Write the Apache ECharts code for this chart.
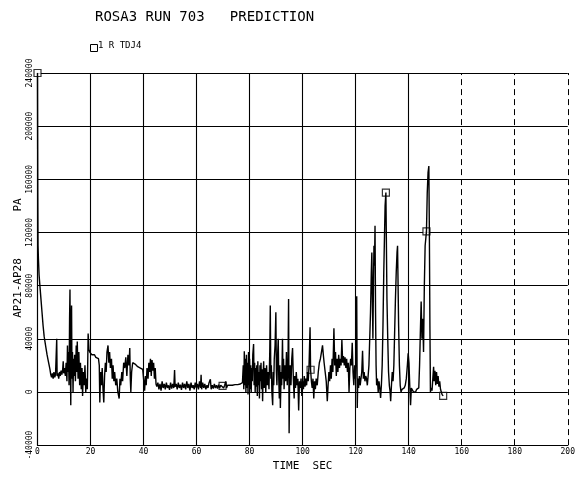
<!DOCTYPE html>
<html><head><meta charset="utf-8">
<script src="https://cdn.jsdelivr.net/npm/echarts@6/dist/echarts.min.js"></script>
<style>html,body{margin:0;padding:0;background:#fff}#c{width:578px;height:477px}</style>
</head><body><div id="c"></div>
<script>
const titleText = 'ROSA3 RUN 703   PREDICTION';
const legendText = '1 R TDJ4';
const xName = 'TIME  SEC';
const yNameTop = 'PA';
const yNameBottom = 'AP21-AP28';
const xTicks = [0,20,40,60,80,100,120,140,160,180,200];
const yTicks = [-40000,0,40000,80000,120000,160000,200000,240000];

const timeSec = [
0,0.1,0.2,0.35,0.6,0.9,1.3,1.7,2.1,2.5,2.8,3.2,3.6,4.0,4.4,4.7,5.0,5.3,
5.6,5.9,6.2,6.5,6.8,7.1,7.25,7.4,7.7,8.0,8.3,8.6,8.9,9.2,9.5,9.7,9.9,10.2,10.5,10.8,11.1,11.3,11.5,11.7,11.9,12.1,12.25,12.4,12.55,12.7,12.85,13.0,13.2,13.4,13.6,13.8,14.0,14.3,14.6,14.8,15.0,15.3,15.6,15.9,16.2,16.5,16.8,17.0,17.3,17.6,17.9,18.2,18.5,18.8,19.1,19.4,19.7,20.1,20.5,21,21.5,22,22.5,23,23.3,23.5,23.8,24.1,24.4,24.7,25.0,25.3,25.6,25.9,26.2,26.6,26.9,27.2,27.5,27.9,28.2,28.5,28.8,29.1,29.5,29.9,30.3,30.8,31.1,31.4,31.8,32.1,32.5,32.9,33.3,33.7,34.1,34.5,34.8,35.0,35.2,35.5,35.9,36.8,37.8,38.8,39.7,40.0,40.4,40.7,41.0,41.3,41.7,42.0,42.3,42.6,42.9,43.2,43.5,43.8,44.1,44.4,44.7,45.0,
45.4,45.8,46.2,46.6,47.0,47.4,47.8,48.2,48.6,49.0,49.4,49.8,50.2,50.6,51.0,51.4,51.7,51.9,52.3,52.7,53.1,53.5,53.9,54.3,54.7,55.1,55.5,55.9,56.3,56.7,57.1,57.5,57.9,58.3,58.7,59.1,59.5,59.9,60.3,60.7,61.1,61.5,61.7,61.9,62.3,62.7,63.1,63.5,63.9,64.3,64.7,65.2,65.5,65.9,66.3,66.7,67.1,67.5,67.9,68.3,68.7,69.1,69.5,69.8,70.2,70.6,71.0,71.3,71.7,72.1,72.5,73,73.5,74,74.5,75,75.5,76,76.5,77,77.3,
77.6,77.8,78.0,78.2,78.4,78.6,78.8,79.0,79.2,79.4,79.6,79.8,80.0,80.2,80.4,80.6,80.8,81.0,81.2,81.5,81.7,81.9,82.1,82.3,82.5,82.7,82.9,83.1,83.3,83.5,83.7,83.9,84.1,84.3,84.5,84.7,84.9,85.1,85.3,85.5,85.8,86.1,86.4,86.7,87.0,87.3,87.6,87.8,88.0,88.2,88.4,88.7,88.9,89.1,89.3,89.6,89.9,90.1,90.3,90.5,90.8,91.0,91.2,91.4,91.6,91.9,92.1,92.4,92.6,92.8,93.0,93.3,93.6,93.9,94.2,94.5,94.7,94.9,95.1,95.3,95.6,95.9,96.2,96.5,96.8,97.0,97.3,97.6,97.9,98.2,98.5,98.8,99.1,99.4,99.7,100.0,100.3,100.6,100.9,101.2,101.5,101.8,102.1,102.4,102.8,103.0,103.3,103.6,103.9,104.2,104.5,104.8,105.1,105.5,105.9,106.3,106.7,107.1,107.5,107.8,108.1,108.5,108.9,109.3,109.6,109.9,110.2,110.5,110.8,111.1,111.4,111.8,112.1,112.4,112.7,113.0,113.3,113.6,113.9,114.2,114.5,114.8,115.1,115.4,115.7,116.0,116.3,116.6,116.9,117.2,117.5,117.8,118.1,118.4,118.7,119.0,119.3,119.6,119.9,120.2,120.4,120.6,120.8,121.1,121.4,121.7,122.0,122.3,122.6,122.9,123.2,123.5,123.8,124.1,124.4,124.7,125.0,125.3,125.6,125.9,126.1,126.3,126.5,126.7,126.9,127.1,127.3,127.5,127.7,127.9,128.2,128.5,128.8,129.1,129.4,129.7,130.0,130.3,130.6,130.9,131.1,131.4,131.6,131.8,132.1,132.4,132.7,133.0,133.2,133.5,133.8,134.1,134.4,134.7,135.0,135.3,135.6,135.8,136.0,136.2,136.5,136.8,137.1,137.5,137.9,138.3,138.7,139.1,139.5,139.8,140.1,140.4,140.7,141.0,141.4,141.8,142.2,142.6,143.0,143.4,143.8,144.1,144.4,144.7,145.0,145.3,145.6,145.9,146.2,146.7,147.0,147.3,147.6,147.8,148.0,148.2,148.5,148.8,149.1,149.4,149.6,149.9,150.2,150.5,150.8,151.1,151.4,151.7,152.0,152.3,152.6,153.0
];
const pressurePa = [
240000,150000,110000,100000,88000,80000,70000,60000,50000,42000,38000,33000,28000,24000,20000,17000,13000,11000,
14000,10000,15000,11000,13000,12000,40000,12000,14000,10000,15000,12000,16000,13000,17000,23000,14000,18000,12000,22000,8000,35000,15000,30000,5000,55000,77000,20000,-10000,45000,65000,10000,30000,0,25000,12000,28000,8000,35000,15000,38000,10000,30000,5000,22000,2000,18000,-3000,15000,5000,20000,0,10000,2000,44000,32000,30000,29000,28000,27000,28000,26000,26000,25000,20000,-8000,15000,5000,18000,2000,-8000,12000,22000,15000,30000,35000,22000,30000,18000,25000,10000,20000,8000,15000,5000,10000,0,-5000,10000,5000,15000,8000,22000,18000,26000,12000,28000,20000,33000,10000,0,15000,22000,21000,19000,18000,17000,10000,1000,12000,5000,18000,10000,22000,15000,25000,12000,24000,16000,22000,10000,18000,6000,4000,
7000,2000,6000,1000,8000,3000,6000,2000,7000,3000,5000,1500,7000,2500,6000,3000,16500,4000,6000,2000,7000,3000,5500,1500,7000,3000,6000,2000,8000,3000,6000,1000,7000,3000,5000,2000,7000,3000,6000,2000,8000,3000,13000,2000,7000,3000,6000,2000,5000,3000,7000,9500,2000,5000,2500,6000,3000,5000,2500,5500,3000,5000,3500,4500,3000,5000,8000,3000,5000,3500,5000,4000,5000,4000,5500,4500,5500,5000,6000,5500,7000,
20000,2000,30700,5000,25000,0,28000,3000,22000,-2000,30000,5000,25000,2000,20000,0,18000,8000,28000,36000,5000,22000,0,18000,4000,20000,-3000,23000,5000,15000,-5000,20000,8000,22000,2000,17000,-7000,12000,23000,3000,18000,0,20000,5000,15000,2000,30000,65000,10000,20000,0,-10000,15000,5000,25000,35000,60000,15000,5000,25000,40000,10000,-5000,20000,-12000,15000,5000,40000,10000,25000,2000,20000,8000,30000,5000,25000,70000,-31000,10000,20000,5000,25000,33000,10000,-5000,12000,3000,15000,5000,10000,-14000,8000,3000,10000,-3000,8000,2000,12000,4000,10000,5000,15000,8000,19000,48700,16700,8000,3000,10000,-5000,8000,2000,10000,5000,15000,22000,25000,30000,35000,28000,22000,15000,8000,-7000,5000,15000,8000,20000,10000,25000,15000,48000,20000,30000,12000,25000,15000,28000,18000,25000,20000,39000,22000,27000,20000,26000,18000,25000,15000,22000,0,18000,25000,20000,37000,15000,5000,20000,10000,40000,72000,-12000,10000,3000,12000,5000,10000,15000,31000,10000,15000,8000,12000,10000,5000,12000,20000,40000,60000,90000,105000,70000,40000,80000,110000,95000,125000,60000,20000,5000,10000,0,8000,3000,-4500,5000,20000,50000,90000,120000,140000,150000,110000,70000,40000,15000,5000,0,-7000,5000,15000,8000,20000,45000,70000,90000,105000,110000,80000,50000,20000,5000,0,2000,1000,3000,5000,10000,20000,29000,22000,5000,-10000,3000,2000,0,1000,0,2000,1000,3000,20000,45000,68000,40000,55000,30000,80000,110000,120800,150000,165000,170000,120000,50000,0,3000,1000,10000,19000,8000,16000,5000,15000,6000,12000,4000,8000,2000,3000,-2000,-3000
];
const markerTimes = [0, 69.8, 103.0, 131.4, 146.7, 153.0];

const lineData = timeSec.map((t, i) => [t, pressurePa[i]]);
const markerData = markerTimes.map(mt => {
  let best = 0;
  timeSec.forEach((t, i) => { if (Math.abs(t - mt) < Math.abs(timeSec[best] - mt)) best = i; });
  return [timeSec[best], pressurePa[best]];
});

const mono = 'DejaVu Sans Mono';
const chart = echarts.init(document.getElementById('c'), null, {renderer: 'canvas'});
chart.setOption({
  animation: false,
  backgroundColor: '#fff',
  grid: {left: 37.5, right: 8, top: 73, bottom: 30, containLabel: false},
  xAxis: {
    type: 'value', min: 0, max: 200, interval: 20,
    name: xName, nameLocation: 'middle', nameGap: 11,
    nameTextStyle: {fontFamily: mono, fontSize: 11, color: '#000'},
    axisLine: {show: true, onZero: false, lineStyle: {color: '#000', width: 1.2}},
    axisTick: {show: false},
    axisLabel: {fontFamily: mono, fontSize: 8, color: '#000', margin: 3, formatter: v => String(v)},
    splitLine: {show: false}
  },
  yAxis: {
    type: 'value', min: -40000, max: 240000, interval: 40000,
    axisLine: {show: true, onZero: false, lineStyle: {color: '#000', width: 1.2}},
    axisTick: {show: false},
    axisLabel: {fontFamily: mono, fontSize: 8, color: '#000', rotate: 90, margin: 4, formatter: v => String(v)},
    splitLine: {show: true, lineStyle: {color: '#000', width: 1.1}}
  },
  graphic: [
    {type: 'text', left: 95, top: 10, style: {text: titleText, font: '14px "DejaVu Sans Mono"', fill: '#000'}},
    {type: 'rect', left: 88, top: 42, shape: {width: 7, height: 7}, style: {fill: 'none', stroke: '#000', lineWidth: 1}},
    {type: 'text', left: 98, top: 41, style: {text: legendText, font: '9px "DejaVu Sans Mono"', fill: '#000'}},
    {type: 'text', x: 18, y: 205, rotation: Math.PI / 2, style: {text: yNameTop, font: '11px "DejaVu Sans Mono"', fill: '#000', align: 'center', verticalAlign: 'middle'}},
    {type: 'text', x: 18, y: 288, rotation: Math.PI / 2, style: {text: yNameBottom, font: '11px "DejaVu Sans Mono"', fill: '#000', align: 'center', verticalAlign: 'middle'}}
  ],
  series: [
    {
      type: 'line', data: lineData, symbol: 'none', silent: true,
      lineStyle: {color: '#000', width: 1.4},
      markLine: {
        silent: true, symbol: 'none', label: {show: false},
        data: xTicks.filter(v => v > 0).map(v => ({
          xAxis: v,
          lineStyle: {color: '#000', width: v >= 160 ? 1 : 1.1, type: v >= 160 ? [6, 4] : 'solid'}
        }))
      }
    },
    {
      type: 'scatter', data: markerData, symbol: 'rect', symbolSize: 7, silent: true,
      itemStyle: {color: '#fff', borderColor: '#000', borderWidth: 1.2}
    }
  ]
});
</script></body></html>
